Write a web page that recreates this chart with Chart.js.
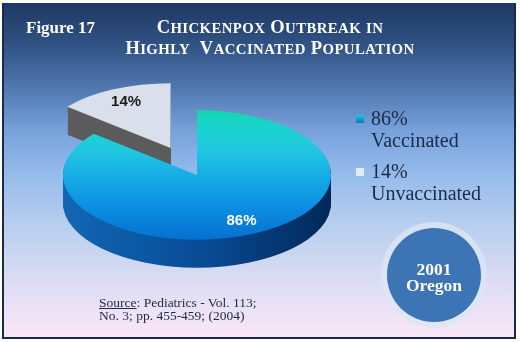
<!DOCTYPE html>
<html>
<head>
<meta charset="utf-8">
<script src="https://cdn.jsdelivr.net/npm/chart.js@4"></script>
<style>
  html, body { margin: 0; padding: 0; background: #fff; }
  #wrap { position: relative; width: 520px; height: 342px; overflow: hidden; font-family: "Liberation Serif", serif; }
  #panel {
    position: absolute; left: 2px; top: 3px; width: 514px; height: 336px; box-sizing: border-box;
    border: 2px solid #1d2a46; border-top: none;
    background: linear-gradient(to bottom, #1e3862 0%, #2f5183 12%, #4f76ad 25%, #77a1da 38%, #93b9ea 50%, #b4cdef 65%, #d9dcf3 82%, #fbe7f8 100%);
  }
  #chart { position: absolute; left: 0; top: 0; }
  .fig { position: absolute; left: 26px; top: 17.5px; font-size: 17px; line-height: 20px; font-weight: bold; color: #fff; }
  .title { position: absolute; left: 120px; width: 300px; top: 16.5px; text-align: center; font-size: 18.5px; line-height: 20px;
    font-weight: bold; color: #fff; white-space: nowrap; letter-spacing: 0.4px; }
  .title small { font-size: 14.8px; }
  #legend { position: absolute; left: 356px; top: 107px; color: #1a2a4c; font-size: 20px; line-height: 22px; }
  #legend .item { position: relative; padding-left: 15px; margin-bottom: 9px; white-space: nowrap; }
  #legend .sw { position: absolute; left: 0; top: 8px; width: 8px; height: 8px; }
  .badge { position: absolute; left: 387px; top: 228px; width: 94px; height: 94px; border-radius: 50%; background: #3d74b5;
    box-shadow: 0 0 0 6px rgba(220, 230, 242, 0.8); }
  .badge div { position: absolute; left: 0; width: 94px; top: 32.5px; text-align: center; color: #fff; font-weight: bold; font-size: 17.5px; line-height: 16.5px; }
  .source { position: absolute; left: 99px; top: 297px; font-size: 13.5px; line-height: 12.7px; color: #1c2844; white-space: nowrap; }
</style>
</head>
<body>
<div id="wrap">
  <div id="panel"></div>
  <canvas id="chart" width="520" height="342"></canvas>
  <div class="fig">Figure 17</div>
  <div class="title">C<small>HICKENPOX</small> O<small>UTBREAK</small> <small>IN</small><br>H<small>IGHLY</small>&nbsp; V<small>ACCINATED</small> P<small>OPULATION</small></div>
  <div id="legend"></div>
  <div class="badge"><div>2001<br>Oregon</div></div>
  <div class="source"><u>Source</u>: Pediatrics - Vol. 113;<br>No. 3; pp. 455-459; (2004)</div>
</div>
<script>
// data
const labels = ['Vaccinated', 'Unvaccinated'];
const values = [86, 14];

// look of the fake 3d pie
const PIE_R = 134;
const SQUASH = 0.483;
const DEPTH = 28;
const EXPLODE = [0, 62];
const SWATCH = ['linear-gradient(#14d0c8, #0a70d0)', '#e4e8f0'];
const SIDE_GRAY = '#5c5c5c';
const TOP_GRAY = '#d9e0ec';
const LABEL_COLOR = ['#ffffff', '#1a1a1a'];

// legend
const legend = document.getElementById('legend');
labels.forEach((lab, i) => {
  legend.innerHTML += `<div class="item"><span class="sw" style="background:${SWATCH[i]}"></span>${values[i]}%<br>${lab}</div>`;
});

function topFill(c) {
  const a = c.chart.chartArea;
  if (!a) return TOP_GRAY;
  if (c.dataIndex !== 0) return TOP_GRAY;
  const cy = (a.top + a.bottom) / 2;
  const g = c.chart.ctx.createLinearGradient(0, cy - PIE_R, 0, cy + PIE_R);
  g.addColorStop(0, '#12d6ae');
  g.addColorStop(0.12, '#1ad4cc');
  g.addColorStop(0.31, '#22c7e0');
  g.addColorStop(0.5, '#16ade6');
  g.addColorStop(0.8, '#0a88e0');
  g.addColorStop(1, '#0670d0');
  return g;
}

function sideFill(ctx, a, i) {
  if (i !== 0) return SIDE_GRAY;
  const g = ctx.createLinearGradient(a.x - PIE_R, 0, a.x + PIE_R, 0);
  g.addColorStop(0, '#1466b4');
  g.addColorStop(0.25, '#0b5aa6');
  g.addColorStop(0.5, '#0a4d96');
  g.addColorStop(0.75, '#053a78');
  g.addColorStop(1, '#02285a');
  return g;
}

// squash the circle into an ellipse around the pie centre
function flatten(ctx, a, dx, dy) {
  ctx.translate(a.x + dx, a.y + dy);
  ctx.scale(1, SQUASH);
  ctx.translate(-a.x, -a.y);
}

const pie3d = {
  id: 'pie3d',
  beforeDatasetDraw() { return false; },
  afterDatasetsDraw(chart) {
    const ctx = chart.ctx;
    const arcs = chart.getDatasetMeta(0).data;
    const order = arcs.map((_, i) => i).reverse(); // back slice first

    order.forEach(i => {
      const a = arcs[i];
      const mid = (a.startAngle + a.endAngle) / 2;
      const ex = Math.cos(mid) * EXPLODE[i];
      const ey = Math.sin(mid) * EXPLODE[i] * SQUASH;
      const side = sideFill(ctx, a, i);
      for (let k = DEPTH; k >= 1; k--) {
        ctx.save();
        flatten(ctx, a, ex, ey + k);
        ctx.fillStyle = side;
        ctx.beginPath();
        ctx.moveTo(a.x, a.y);
        ctx.arc(a.x, a.y, a.outerRadius, a.startAngle, a.endAngle);
        ctx.closePath();
        ctx.fill();
        ctx.restore();
      }
      ctx.save();
      flatten(ctx, a, ex, ey);
      a.draw(ctx);
      ctx.restore();
    });

    // percentage labels
    ctx.save();
    ctx.font = 'bold 15px "Liberation Sans", Arial, sans-serif';
    ctx.textAlign = 'center';
    ctx.textBaseline = 'middle';
    arcs.forEach((a, i) => {
      const mid = (a.startAngle + a.endAngle) / 2;
      const r = a.outerRadius * 0.78;
      const x = a.x + Math.cos(mid) * (EXPLODE[i] + r);
      const y = a.y + Math.sin(mid) * (EXPLODE[i] + r) * SQUASH;
      ctx.fillStyle = LABEL_COLOR[i];
      ctx.fillText(`${values[i]}%`, x, y);
    });
    ctx.restore();
  }
};

const cx = 197, cy = 175, box = 140;
new Chart(document.getElementById('chart'), {
  type: 'pie',
  data: {
    labels: labels,
    datasets: [{
      data: values,
      backgroundColor: topFill,
      borderWidth: 0,
      clip: false
    }]
  },
  options: {
    responsive: false,
    devicePixelRatio: 1,
    animation: false,
    events: [],
    radius: PIE_R,
    layout: { padding: { left: cx - box, right: 520 - cx - box, top: cy - box, bottom: 342 - cy - box } },
    plugins: { legend: { display: false }, tooltip: { enabled: false } }
  },
  plugins: [pie3d]
});
</script>
</body>
</html>
